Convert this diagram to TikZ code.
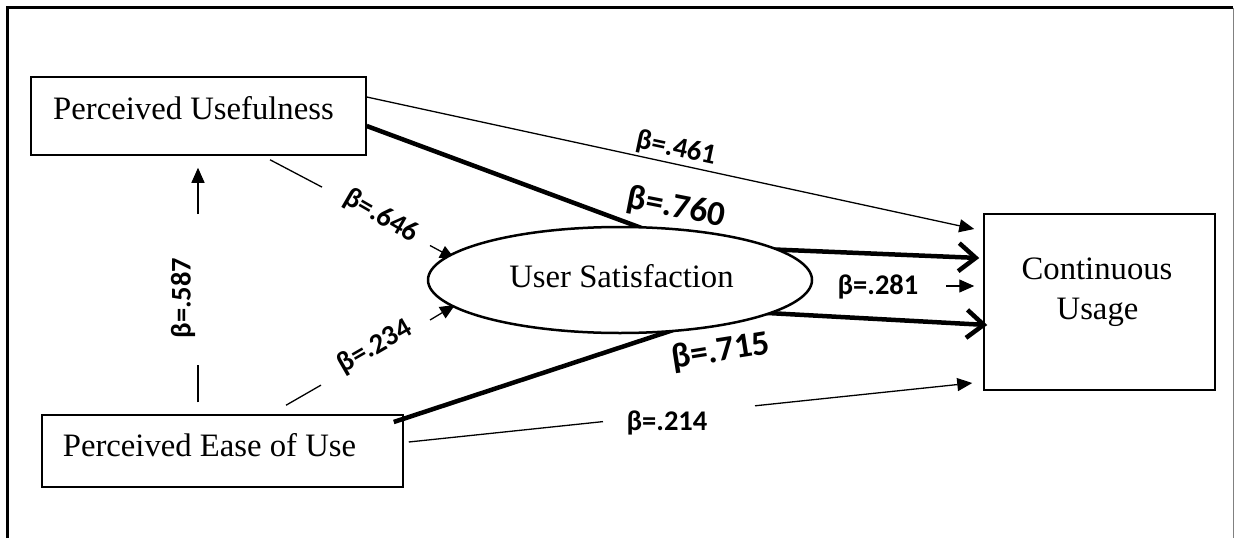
\documentclass[tikz,border=0pt]{standalone}
\usepackage{fontspec}
\setmainfont{Liberation Serif}
\newfontfamily\labfont{Carlito}
\usetikzlibrary{arrows.meta,shapes.geometric}
\pgfdeclarelayer{bg}
\pgfsetlayers{bg,main}
\begin{document}
\begin{tikzpicture}[x=1pt,y=-1pt,
  box/.style={draw,line width=1.5pt,rectangle,inner sep=0pt},
  oval/.style={draw,ellipse,line width=2.5pt,fill=white,inner sep=0pt},
  nodetext/.style={font=\fontsize{32.7}{38}\selectfont,inner sep=0pt,anchor=base},
  beta/.style={font={\labfont\bfseries\fontsize{28.5}{30}\selectfont},inner sep=0pt},
  bigbeta/.style={font={\labfont\bfseries\fontsize{35}{36}\selectfont},inner sep=0pt},
  thinline/.style={line width=1.3pt},
  thinarrow/.style={line width=1.3pt,-{Triangle[length=15pt,width=13pt]}},
  thickarrow/.style={line width=4.5pt,rounded corners=40pt,-{Straight Barb[length=17pt,width=28pt]}}
]
\useasboundingbox (0,0) rectangle (1236,538);

% nodes
\node[box,minimum width=335pt,minimum height=78pt] (pu) at (198.5,116) {};
\node[nodetext] (putext) at (193.5,119) {Perceived Usefulness};
\node[box,minimum width=361pt,minimum height=72pt] (peou) at (222.5,451) {};
\node[nodetext] (peoutext) at (209.5,456) {Perceived Ease of Use};
\node[box,minimum width=231pt,minimum height=176pt] (cu) at (1099.5,302) {};
\node[nodetext] (cutext1) at (1097,279) {Continuous};
\node[nodetext] (cutext2) at (1097.5,319) {Usage};
\node[oval,minimum width=384pt,minimum height=106pt] (us) at (620,280) {};
\node[nodetext] (ustext) at (621.5,287) {User Satisfaction};

% connectors behind the ellipse
\begin{pgfonlayer}{bg}
  \fill[white] (0,0) rectangle (1236,538);
  % frame
  \draw[line width=3pt] (7.5,538) -- (7.5,7.5) -- (1233,7.5);
  \draw[line width=1pt,gray] (1233,7.5) -- (1233,538);
  % PU -> CU (beta .461)
  \draw[thinarrow] ([yshift=19pt]pu.east) -- ([shift={(-9pt,73pt)}]cu.west);
  % PU -> CU through US (beta .760)
  \draw[thickarrow] ([yshift=-10pt]pu.east) -- (690,246) -- ([shift={(-4pt,44pt)}]cu.west);
  % PEOU -> CU through US (beta .715)
  \draw[thickarrow] ([shift={(-10pt,29pt)}]peou.east) -- (731,311) -- ([shift={(4pt,-23pt)}]cu.west);
  % PU -> US (beta .646)
  \coordinate (a646) at (322,187.1);
  \coordinate (b646) at (430,245.5);
  \draw[thinline] ([shift={(71.5pt,-4pt)}]pu.south) -- (a646);
  \draw[thinarrow] (b646) -- (455,259);
  % PEOU -> US (beta .234)
  \coordinate (a234) at (321,385.1);
  \coordinate (b234) at (430,320);
  \draw[thinline] ([shift={(63.5pt,9pt)}]peou.north) -- (a234);
  \draw[thinarrow] (b234) -- (455,305);
\end{pgfonlayer}

% US -> CU (beta .281)
\draw[thinarrow] ([shift={(-37pt,16pt)}]cu.west) -- ([shift={(-9pt,16pt)}]cu.west);
% PEOU -> CU (beta .214)
\coordinate (a214) at (603,421.6);
\coordinate (b214) at (755,405.8);
\draw[thinline] ([shift={(5pt,9pt)}]peou.east) -- (a214);
\draw[thinarrow] (b214) -- ([shift={(-11pt,-81pt)}]cu.west);
% PEOU -> PU (beta .587)
\coordinate (a587) at (198,365);
\coordinate (b587) at (198,214);
\draw[thinline] ([shift={(-24.5pt,12pt)}]peou.north) -- (a587);
\draw[thinarrow] (b587) -- ([shift={(-0.5pt,-12pt)}]pu.south);

% labels
\node[beta,rotate=-12] (l461) at (676,149) {β=.461};
\node[bigbeta,rotate=-11] (l760) at (676,208) {β=.760};
\node[beta,rotate=-30] (l646) at (381,216) {β=.646};
\node[beta,rotate=30] (l234) at (375,347) {β=.234};
\node[bigbeta,rotate=9] (l715) at (721,352) {β=.715};
\node[beta] (l281) at (878,287) {β=.281};
\node[beta] (l214) at (667,423) {β=.214};
\node[beta,rotate=90] (l587) at (183,298) {β=.587};
\end{tikzpicture}
\end{document}
